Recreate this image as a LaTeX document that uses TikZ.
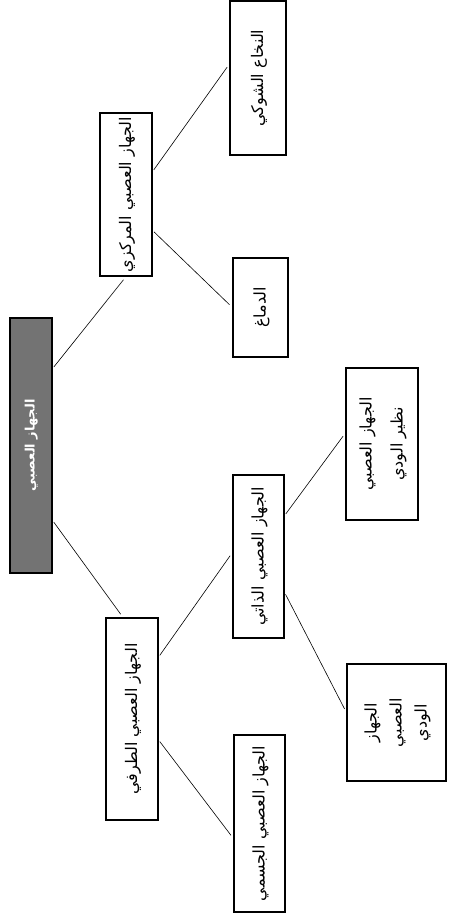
\documentclass[tikz,border=0pt]{standalone}
\usepackage{fontspec}
\usepackage{graphicx}
\TeXXeTstate=1
\newfontfamily\arabicfont[Script=Arabic]{DejaVu Sans}
\newcommand{\ar}[1]{{\arabicfont\beginR #1\endR}}
\newcommand{\rot}[1]{\rotatebox{90}{\begin{tabular}{@{}c@{}}#1\end{tabular}}}

\begin{document}
\begin{tikzpicture}[x=1pt,y=-1pt,
  box/.style={draw,line width=1.2pt,inner sep=0pt,font=\fontsize{16}{25}\selectfont},
  rootbox/.style={box,fill=black!55,text=white,font=\bfseries\fontsize{13}{18}\selectfont},
  link/.style={line width=0.6pt,shorten <=2pt,shorten >=4pt}]
  \useasboundingbox (0,0) rectangle (448,921);

  % the root
  \node[rootbox,minimum width=42pt,minimum height=255pt] (root) at (31,445.5)
    {\rot{\ar{الجهاز العصبي}}};

  % central branch
  \node[box,minimum width=52pt,minimum height=163pt] (central) at (126,194.5)
    {\rot{\ar{الجهاز العصبي المركزي}}};
  \node[box,minimum width=56pt,minimum height=154pt] (spinal) at (258,78)
    {\rot{\ar{النخاع الشوكي}}};
  \node[box,minimum width=55pt,minimum height=99pt] (brain) at (260.5,307.5)
    {\rot{\ar{الدماغ}}};

  % peripheral branch
  \node[box,minimum width=52pt,minimum height=202pt] (peripheral) at (132,719)
    {\rot{\ar{الجهاز العصبي الطرفي}}};
  \node[box,minimum width=51pt,minimum height=163pt] (autonomic) at (258.5,556.5)
    {\rot{\ar{الجهاز العصبي الذاتي}}};
  \node[box,minimum width=51pt,minimum height=177pt] (somatic) at (259.5,823.5)
    {\rot{\ar{الجهاز العصبي الجسمي}}};
  \node[box,minimum width=72pt,minimum height=152pt] (parasym) at (382,444)
    {\rot{\ar{الجهاز العصبي}\\[6pt] \ar{نظير الودي}}};
  \node[box,minimum width=99pt,minimum height=117pt] (sym) at (396.5,722.5)
    {\rot{\ar{الجهاز}\\ \ar{العصبي}\\ \ar{الودي}}};

  % the connectors
  \draw[link] ([yshift=77pt]root.east) -- (central.south);
  \draw[link] ([yshift=-75pt]root.east) -- ([xshift=-9pt]peripheral.north);
  \draw[link] ([yshift=23pt]central.east) -- ([yshift=14pt]spinal.west);
  \draw[link] ([yshift=-36pt]central.east) -- (brain.west);
  \draw[link] ([yshift=62pt]peripheral.east) -- ([yshift=4pt]autonomic.west);
  \draw[link] ([yshift=-21pt]peripheral.east) -- ([yshift=-15pt]somatic.west);
  \draw[link] ([yshift=41pt]autonomic.east) -- ([yshift=11pt]parasym.west);
  \draw[link] ([yshift=-36pt]autonomic.east) -- ([yshift=10pt]sym.west);
\end{tikzpicture}
\end{document}
